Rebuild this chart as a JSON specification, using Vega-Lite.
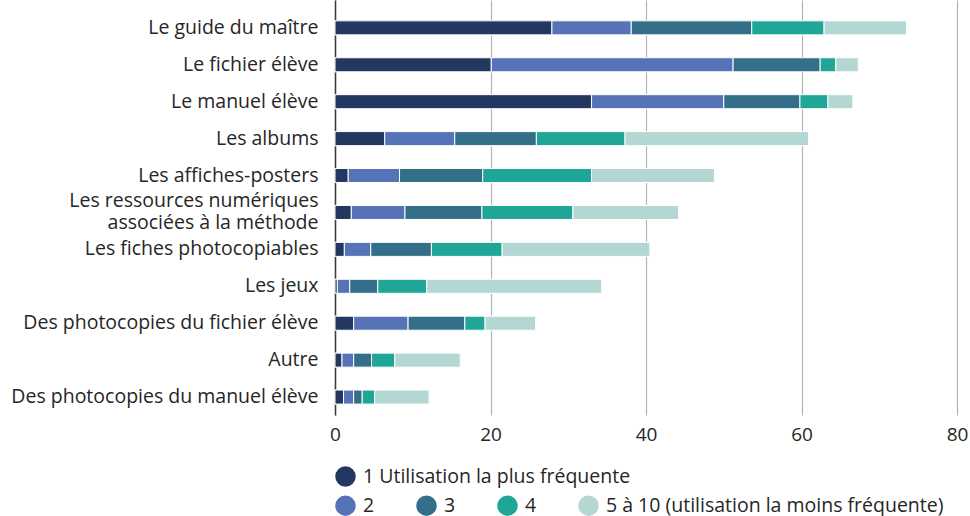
{
  "$schema": "https://vega.github.io/schema/vega-lite/v6.json",
  "width": 622,
  "height": 415,
  "autosize": {"type": "none"},
  "padding": {"left": 335, "top": 0, "right": 13, "bottom": 101},
  "background": "white",
  "config": {
    "view": {"stroke": null},
    "font": "Open Sans",
    "axis": {"labelFont": "Open Sans", "labelColor": "#262626", "labelFontSize": 19.5},
    "legend": {"labelFont": "Open Sans", "labelFontSize": 19.5, "labelColor": "#262626"}
  },
  "data": {
    "values": [
      {"support": "Le guide du maître", "rang": "1 Utilisation la plus fréquente", "r": 1, "v": 27.9},
      {"support": "Le guide du maître", "rang": "2", "r": 2, "v": 10.2},
      {"support": "Le guide du maître", "rang": "3", "r": 3, "v": 15.5},
      {"support": "Le guide du maître", "rang": "4", "r": 4, "v": 9.3},
      {"support": "Le guide du maître", "rang": "5 à 10 (utilisation la moins fréquente)", "r": 5, "v": 10.6},
      {"support": "Le fichier élève", "rang": "1 Utilisation la plus fréquente", "r": 1, "v": 20.1},
      {"support": "Le fichier élève", "rang": "2", "r": 2, "v": 31.1},
      {"support": "Le fichier élève", "rang": "3", "r": 3, "v": 11.2},
      {"support": "Le fichier élève", "rang": "4", "r": 4, "v": 2.0},
      {"support": "Le fichier élève", "rang": "5 à 10 (utilisation la moins fréquente)", "r": 5, "v": 2.9},
      {"support": "Le manuel élève", "rang": "1 Utilisation la plus fréquente", "r": 1, "v": 33.0},
      {"support": "Le manuel élève", "rang": "2", "r": 2, "v": 17.0},
      {"support": "Le manuel élève", "rang": "3", "r": 3, "v": 9.8},
      {"support": "Le manuel élève", "rang": "4", "r": 4, "v": 3.6},
      {"support": "Le manuel élève", "rang": "5 à 10 (utilisation la moins fréquente)", "r": 5, "v": 3.2},
      {"support": "Les albums", "rang": "1 Utilisation la plus fréquente", "r": 1, "v": 6.4},
      {"support": "Les albums", "rang": "2", "r": 2, "v": 9.0},
      {"support": "Les albums", "rang": "3", "r": 3, "v": 10.5},
      {"support": "Les albums", "rang": "4", "r": 4, "v": 11.4},
      {"support": "Les albums", "rang": "5 à 10 (utilisation la moins fréquente)", "r": 5, "v": 23.6},
      {"support": "Les affiches-posters", "rang": "1 Utilisation la plus fréquente", "r": 1, "v": 1.7},
      {"support": "Les affiches-posters", "rang": "2", "r": 2, "v": 6.6},
      {"support": "Les affiches-posters", "rang": "3", "r": 3, "v": 10.7},
      {"support": "Les affiches-posters", "rang": "4", "r": 4, "v": 14.0},
      {"support": "Les affiches-posters", "rang": "5 à 10 (utilisation la moins fréquente)", "r": 5, "v": 15.8},
      {"support": "Les ressources numériques|associées à la méthode", "rang": "1 Utilisation la plus fréquente", "r": 1, "v": 2.1},
      {"support": "Les ressources numériques|associées à la méthode", "rang": "2", "r": 2, "v": 6.9},
      {"support": "Les ressources numériques|associées à la méthode", "rang": "3", "r": 3, "v": 9.9},
      {"support": "Les ressources numériques|associées à la méthode", "rang": "4", "r": 4, "v": 11.7},
      {"support": "Les ressources numériques|associées à la méthode", "rang": "5 à 10 (utilisation la moins fréquente)", "r": 5, "v": 13.6},
      {"support": "Les fiches photocopiables", "rang": "1 Utilisation la plus fréquente", "r": 1, "v": 1.2},
      {"support": "Les fiches photocopiables", "rang": "2", "r": 2, "v": 3.4},
      {"support": "Les fiches photocopiables", "rang": "3", "r": 3, "v": 7.8},
      {"support": "Les fiches photocopiables", "rang": "4", "r": 4, "v": 9.1},
      {"support": "Les fiches photocopiables", "rang": "5 à 10 (utilisation la moins fréquente)", "r": 5, "v": 19.0},
      {"support": "Les jeux", "rang": "1 Utilisation la plus fréquente", "r": 1, "v": 0.3},
      {"support": "Les jeux", "rang": "2", "r": 2, "v": 1.6},
      {"support": "Les jeux", "rang": "3", "r": 3, "v": 3.6},
      {"support": "Les jeux", "rang": "4", "r": 4, "v": 6.3},
      {"support": "Les jeux", "rang": "5 à 10 (utilisation la moins fréquente)", "r": 5, "v": 22.5},
      {"support": "Des photocopies du fichier élève", "rang": "1 Utilisation la plus fréquente", "r": 1, "v": 2.4},
      {"support": "Des photocopies du fichier élève", "rang": "2", "r": 2, "v": 7.0},
      {"support": "Des photocopies du fichier élève", "rang": "3", "r": 3, "v": 7.3},
      {"support": "Des photocopies du fichier élève", "rang": "4", "r": 4, "v": 2.6},
      {"support": "Des photocopies du fichier élève", "rang": "5 à 10 (utilisation la moins fréquente)", "r": 5, "v": 6.5},
      {"support": "Autre", "rang": "1 Utilisation la plus fréquente", "r": 1, "v": 0.9},
      {"support": "Autre", "rang": "2", "r": 2, "v": 1.5},
      {"support": "Autre", "rang": "3", "r": 3, "v": 2.3},
      {"support": "Autre", "rang": "4", "r": 4, "v": 3.0},
      {"support": "Autre", "rang": "5 à 10 (utilisation la moins fréquente)", "r": 5, "v": 8.4},
      {"support": "Des photocopies du manuel élève", "rang": "1 Utilisation la plus fréquente", "r": 1, "v": 1.1},
      {"support": "Des photocopies du manuel élève", "rang": "2", "r": 2, "v": 1.3},
      {"support": "Des photocopies du manuel élève", "rang": "3", "r": 3, "v": 1.1},
      {"support": "Des photocopies du manuel élève", "rang": "4", "r": 4, "v": 1.6},
      {"support": "Des photocopies du manuel élève", "rang": "5 à 10 (utilisation la moins fréquente)", "r": 5, "v": 7.0}
    ]
  },
  "encoding": {
    "y": {
      "field": "support",
      "type": "nominal",
      "sort": ["Le guide du maître", "Le fichier élève", "Le manuel élève", "Les albums", "Les affiches-posters", "Les ressources numériques|associées à la méthode", "Les fiches photocopiables", "Les jeux", "Des photocopies du fichier élève", "Autre", "Des photocopies du manuel élève"],
      "scale": {"paddingInner": 0.62, "paddingOuter": 0.43, "align": 0.656},
      "axis": {
        "title": null,
        "ticks": false,
        "domain": true,
        "domainColor": "#3a3a3a",
        "domainWidth": 1.5,
        "labelPadding": 17,
        "labelLimit": 400,
        "labelBaseline": "middle",
        "labelLineHeight": 22,
        "labelOffset": {"condition": {"test": "indexof(datum.label, '|') >= 0", "value": -11}, "value": 0},
        "labelExpr": "split(datum.label, '|')"
      }
    },
    "x": {
      "field": "v",
      "type": "quantitative",
      "aggregate": "sum",
      "stack": "zero",
      "scale": {"domain": [0, 80], "nice": false},
      "axis": {
        "title": null,
        "values": [0, 20, 40, 60, 80],
        "ticks": false,
        "domain": false,
        "grid": true,
        "gridColor": "#b4b4b4",
        "gridWidth": 1.2,
        "labelPadding": 10,
        "labelFlush": false,
        "labelFontSize": 19
      }
    },
    "order": {"field": "r", "type": "quantitative"}
  },
  "layer": [
    {
      "mark": {"type": "bar", "stroke": "white", "strokeWidth": 1},
      "encoding": {
        "color": {
          "field": "rang",
          "type": "nominal",
          "scale": {
            "domain": ["1 Utilisation la plus fréquente", "2", "3", "4", "5 à 10 (utilisation la moins fréquente)"],
            "range": ["#243760", "#5673b8", "#336f89", "#1fa697", "#b3d7d3"]
          },
          "legend": {
            "title": null,
            "values": ["1 Utilisation la plus fréquente"],
            "orient": "none",
            "legendX": 0,
            "legendY": 466,
            "symbolType": "circle",
            "symbolSize": 420,
            "symbolStrokeWidth": 0,
            "labelOffset": 7,
            "labelLimit": 500
          }
        }
      }
    },
    {
      "mark": {"type": "bar", "stroke": "white", "strokeWidth": 1},
      "encoding": {
        "color": {
          "field": "rang",
          "type": "nominal",
          "scale": {
            "domain": ["1 Utilisation la plus fréquente", "2", "3", "4", "5 à 10 (utilisation la moins fréquente)"],
            "range": ["#243760", "#5673b8", "#336f89", "#1fa697", "#b3d7d3"]
          },
          "legend": {
            "title": null,
            "values": ["2", "3", "4", "5 à 10 (utilisation la moins fréquente)"],
            "orient": "none",
            "direction": "horizontal",
            "legendX": 0,
            "legendY": 495,
            "symbolType": "circle",
            "symbolSize": 420,
            "symbolStrokeWidth": 0,
            "labelOffset": 7,
            "labelLimit": 500,
            "columnPadding": 41
          }
        }
      }
    }
  ],
  "resolve": {"scale": {"color": "independent"}}
}
